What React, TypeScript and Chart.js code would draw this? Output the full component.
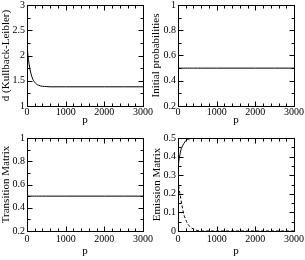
import React, { useEffect, useRef } from "react";
import { Chart, registerables } from "chart.js";

Chart.register(...registerables);

// ---- data ----
const P = [0, 25, 50, 75, 100, 150, 200, 250, 300, 400, 500, 600, 800, 1000, 1500, 2000, 2500, 3000];
const KL = [2.2, 2.0, 1.85, 1.74, 1.65, 1.53, 1.47, 1.43, 1.41, 1.39, 1.385, 1.38, 1.38, 1.38, 1.38, 1.38, 1.38, 1.38];
const INITIAL = [0.5, 0.5, 0.5, 0.5, 0.5, 0.5, 0.5, 0.5, 0.5, 0.5, 0.5, 0.5, 0.5, 0.5, 0.5, 0.5, 0.5, 0.5];
const TRANSITION = [0.5, 0.5, 0.5, 0.5, 0.5, 0.5, 0.5, 0.5, 0.5, 0.5, 0.5, 0.5, 0.5, 0.5, 0.5, 0.5, 0.5, 0.5];
const EMISSION_UP = [0.33, 0.38, 0.41, 0.435, 0.45, 0.47, 0.485, 0.492, 0.496, 0.499, 0.5, 0.5, 0.5, 0.5, 0.5, 0.5, 0.5, 0.5];
const EMISSION_DOWN = [0.27, 0.23, 0.2, 0.17, 0.14, 0.09, 0.06, 0.04, 0.025, 0.01, 0.003, 0.0, 0.0, 0.0, 0.0, 0.0, 0.0, 0.0];

const X_TICKS = [0, 1000, 2000, 3000];

const FONT = "'Liberation Serif', 'Times New Roman', 'DejaVu Serif', serif";

const toPoints = (ys: number[]) => ys.map((y, i) => ({ x: P[i], y }));
const fmt = (v: number) => String(Math.round(v * 1000) / 1000);

const frameTicks = {
  id: "frameTicks",
  afterDraw(chart: any, _args: any, opts: any) {
    const { left, right, top, bottom } = chart.chartArea;
    const ctx = chart.ctx;
    const xs = chart.scales.x;
    const ys = chart.scales.y;
    ctx.save();
    ctx.strokeStyle = "#000";
    ctx.lineWidth = 1;
    const L = Math.round(left) + 0.5;
    const R = Math.round(right) + 0.5;
    const T = Math.round(top) + 0.5;
    const B = Math.round(bottom) + 0.5;
    ctx.strokeRect(L, T, R - L, B - T);
    ctx.beginPath();
    const isMajor = (v: number, step: number) => Math.abs(v / step - Math.round(v / step)) < 1e-6;
    const nx = Math.round((opts.xMax - opts.xMin) / opts.xMinor);
    for (let i = 0; i <= nx; i++) {
      const v = opts.xMin + i * opts.xMinor;
      const len = isMajor(v, opts.xMajor) ? 5 : 3;
      const px = Math.round(xs.getPixelForValue(v)) + 0.5;
      ctx.moveTo(px, B);
      ctx.lineTo(px, B - len);
      ctx.moveTo(px, T);
      ctx.lineTo(px, T + len);
    }
    const ny = Math.round((opts.yMax - opts.yMin) / opts.yMinor);
    for (let i = 0; i <= ny; i++) {
      const v = opts.yMin + i * opts.yMinor;
      const len = isMajor(v, opts.yMajor) ? 5 : 3;
      const py = Math.round(ys.getPixelForValue(v)) + 0.5;
      ctx.moveTo(L, py);
      ctx.lineTo(L + len, py);
      ctx.moveTo(R, py);
      ctx.lineTo(R - len, py);
    }
    ctx.stroke();
    ctx.restore();
  },
};

type Panel = {
  pad: { left: number; right: number; top: number; bottom: number };
  yWidth: number;
  xHeight: number;
  xTickPad: number;
  xTitlePad: number;
  yTitlePad: number;
  yMin: number;
  yMax: number;
  yMajor: number;
  yMinor: number;
  yTitle: string;
  series: { data: number[]; dash?: number[] }[];
};

const PANELS: Panel[] = [
  {
    pad: { left: 0, right: 162, top: 5, bottom: 130 },
    yWidth: 27, xHeight: 24, xTickPad: 0, xTitlePad: 3, yTitlePad: 0,
    yMin: 1, yMax: 3, yMajor: 0.5, yMinor: 0.25,
    yTitle: "d (Kullback-Leibler)",
    series: [{ data: KL }],
  },
  {
    pad: { left: 150, right: 11, top: 5, bottom: 130 },
    yWidth: 28, xHeight: 24, xTickPad: 0, xTitlePad: 3, yTitlePad: 0,
    yMin: 0.2, yMax: 1, yMajor: 0.2, yMinor: 0.1,
    yTitle: "Initial probabilities",
    series: [{ data: INITIAL }],
  },
  {
    pad: { left: 0, right: 162, top: 138, bottom: 0 },
    yWidth: 27, xHeight: 29, xTickPad: 2, xTitlePad: 2, yTitlePad: 0,
    yMin: 0.2, yMax: 1, yMajor: 0.2, yMinor: 0.1,
    yTitle: "Transition Matrix",
    series: [{ data: TRANSITION }],
  },
  {
    pad: { left: 150, right: 11, top: 138, bottom: 0 },
    yWidth: 28, xHeight: 29, xTickPad: 2, xTitlePad: 2, yTitlePad: 1,
    yMin: 0, yMax: 0.5, yMajor: 0.1, yMinor: 0.05,
    yTitle: "Emission Matrix",
    series: [{ data: EMISSION_UP }, { data: EMISSION_DOWN, dash: [3, 2] }],
  },
];

function PanelChart({ panel }: { panel: Panel }) {
  const ref = useRef<HTMLCanvasElement>(null);
  useEffect(() => {
    let chart: Chart | null = null;
    let cancelled = false;
    const build = () => {
      if (cancelled || !ref.current) return;
      chart = new Chart(ref.current, {
        type: "line",
        data: {
          datasets: panel.series.map((s) => ({
            data: toPoints(s.data),
            borderColor: "#000",
            borderWidth: 1,
            borderDash: s.dash || [],
            pointRadius: 0,
            fill: false,
            cubicInterpolationMode: "monotone" as const,
          })),
        },
        options: {
          responsive: false,
          animation: false,
          devicePixelRatio: 1,
          layout: { padding: panel.pad },
          plugins: {
            legend: { display: false },
            tooltip: { enabled: false },
            frameTicks: {
              xMin: 0, xMax: 3000, xMajor: 1000, xMinor: 200,
              yMin: panel.yMin, yMax: panel.yMax, yMajor: panel.yMajor, yMinor: panel.yMinor,
            },
          } as any,
          scales: {
            x: {
              type: "linear",
              min: 0,
              max: 3000,
              afterBuildTicks: (s: any) => {
                s.ticks = X_TICKS.map((v) => ({ value: v }));
              },
              ticks: {
                color: "#000",
                font: { family: FONT, size: 10 },
                padding: panel.xTickPad,
                maxRotation: 0,
                autoSkip: false,
                callback: (v: any) => fmt(Number(v)),
              },
              grid: { display: false, drawTicks: false },
              border: { display: false },
              title: {
                display: true,
                text: "p",
                color: "#000",
                font: { family: FONT, size: 11 },
                padding: { top: 0, bottom: panel.xTitlePad },
              },
              afterFit: (s: any) => {
                s.height = panel.xHeight;
                s.paddingLeft = 0;
                s.paddingRight = 0;
              },
            },
            y: {
              type: "linear",
              min: panel.yMin,
              max: panel.yMax,
              ticks: {
                stepSize: panel.yMajor,
                color: "#000",
                font: { family: FONT, size: 10 },
                padding: 2,
                callback: (v: any) => fmt(Number(v)),
              },
              grid: { display: false, drawTicks: false },
              border: { display: false },
              title: {
                display: true,
                text: panel.yTitle,
                color: "#000",
                font: { family: FONT, size: 11 },
                padding: { top: panel.yTitlePad, bottom: 0 },
              },
              afterFit: (s: any) => {
                s.width = panel.yWidth;
                s.paddingTop = 0;
                s.paddingBottom = 0;
              },
            },
          },
        },
        plugins: [frameTicks],
      });
    };
    const fonts: any = (document as any).fonts;
    if (fonts && fonts.load) {
      Promise.all([
        fonts.load("10px 'Liberation Serif'"),
        fonts.load("11px 'Liberation Serif'"),
      ]).then(build, build);
    } else {
      build();
    }
    return () => {
      cancelled = true;
      if (chart) chart.destroy();
    };
  }, [panel]);
  return (
    <canvas
      ref={ref}
      width={305}
      height={260}
      style={{ position: "absolute", left: 0, top: 0, width: 305, height: 260 }}
    />
  );
}

export default function App() {
  return (
    <div style={{ position: "fixed", left: 0, top: 0, width: 305, height: 260, background: "#fff" }}>
      {PANELS.map((p, i) => (
        <PanelChart key={i} panel={p} />
      ))}
    </div>
  );
}
